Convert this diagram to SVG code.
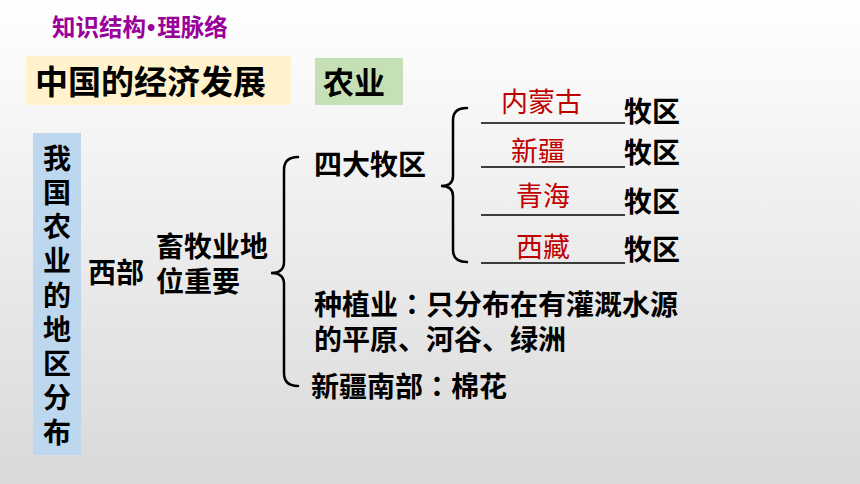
<svg xmlns="http://www.w3.org/2000/svg" width="860" height="484" viewBox="0 0 860 484">
<defs>
<linearGradient id="bg" x1="0" y1="0" x2="0" y2="1">
<stop offset="0" stop-color="#ffffff"/>
<stop offset="1" stop-color="#d9d9d9"/>
</linearGradient>
<style>
text{font-family:"Noto Sans CJK SC","Noto Sans CJK JP",sans-serif;}
.b{font-weight:bold;fill:#000;font-size:28px;}
.r{fill:#c00000;font-size:27px;}
.c{font-family:"Noto Sans CJK TC",sans-serif;}
.line{stroke:#000;stroke-width:1.5;}
.brace{fill:none;stroke:#000;stroke-width:2.5;stroke-linecap:round;}
</style>
</defs>
<rect width="860" height="484" fill="url(#bg)"/>
<g id="header">
<text x="52" y="36" font-size="23.5" font-weight="bold" fill="#990099">知识结构<tspan font-family="Liberation Sans, sans-serif" dx="1">•</tspan><tspan dx="2">理脉络</tspan></text>
</g>
<g id="title">
<rect x="26" y="56" width="265" height="49" fill="#fff2cc"/>
<text x="35" y="94" font-size="33" font-weight="bold" fill="#000">中国的经济发展</text>
</g>
<g id="agri">
<rect x="315" y="58" width="88" height="47" fill="#c5e0b4"/>
<text x="323" y="94" font-size="31" font-weight="bold" fill="#000">农业</text>
</g>
<g id="side">
<rect x="33" y="133" width="48" height="322" fill="#bdd7ee"/>
<text class="b" x="57" y="144" style="writing-mode:vertical-rl;letter-spacing:6.25px">我国农业的地区分布</text>
</g>
<g id="west">
<text class="b" x="88" y="283">西部</text>
</g>
<g id="pastoral">
<text class="b"><tspan x="156" y="257">畜牧业地</tspan><tspan x="156" y="292">位重要</tspan></text>
</g>
<g id="four">
<text class="b" x="314" y="175">四大牧区</text>
</g>
<g id="planting">
<text class="b"><tspan x="314" y="315">种植业</tspan><tspan class="c">：</tspan><tspan>只分布在有灌溉水源</tspan><tspan x="314" y="350">的平原、河谷、绿洲</tspan></text>
</g>
<g id="cotton">
<text class="b" x="311" y="397">新疆南部<tspan class="c">：</tspan>棉花</text>
</g>
<g id="areas">
<text class="r" x="501" y="112">内蒙古</text>
<text class="r" x="511" y="161">新疆</text>
<text class="r" x="516" y="206">青海</text>
<text class="r" x="516" y="257">西藏</text>
<text class="b" x="624" y="122">牧区</text>
<text class="b" x="624" y="163">牧区</text>
<text class="b" x="624" y="212">牧区</text>
<text class="b" x="624" y="260">牧区</text>
</g>
<g id="connectors">
<line class="line" x1="481" y1="123" x2="625" y2="123"/>
<line class="line" x1="481" y1="167" x2="625" y2="167"/>
<line class="line" x1="481" y1="215" x2="625" y2="215"/>
<line class="line" x1="481" y1="263" x2="625" y2="263"/>
<path class="brace" d="M298,157 Q284,157 284,170 L284,262 Q284,273 271,273 Q284,273 284,284 L284,373 Q284,386 298,386"/>
<path class="brace" d="M467,108 Q453,108 453,120 L453,176 Q453,186 441,186 Q453,186 453,196 L453,250 Q453,262 467,262"/>
</g>
</svg>
